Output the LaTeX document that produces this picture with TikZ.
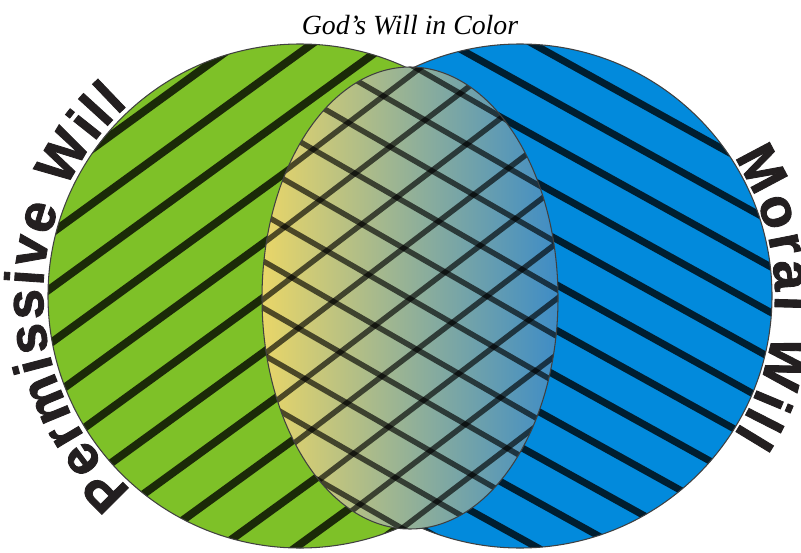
\documentclass[tikz,border=0pt]{standalone}
\usepackage{fontspec}
\setmainfont{Liberation Serif}
\setsansfont{Liberation Sans}
\newfontfamily\arcfamily{Liberation Sans}[BoldFeatures={FakeBold=1.6}]
\usepackage{xcolor}
\usetikzlibrary{calc,decorations.text,shadings}

\definecolor{permgreen}{RGB}{126,193,40}
\definecolor{moralblue}{RGB}{2,138,220}
\definecolor{lensyellow}{RGB}{233,214,104}
\definecolor{lensmid}{RGB}{168,186,140}
\definecolor{lenssteel}{RGB}{62,140,198}
\definecolor{inkblack}{RGB}{35,31,32}

\newcommand\arcfont{\arcfamily\bfseries\fontsize{31}{34}\selectfont}

\begin{document}
\begin{tikzpicture}[
  x=0.02cm, y=0.02cm,
  rim/.style={draw=black!75, line width=0.6pt},
  greenstripe/.style={draw=black, draw opacity=0.78, line width=4.5pt},
  bluestripe/.style={draw=black, draw opacity=0.78, line width=4.0pt},
  hatch/.style={draw=black, draw opacity=0.65, line width=3.1pt},
  titletext/.style={font=\itshape\fontsize{15.8}{18}\selectfont, inner sep=0pt},
  arclabel/.style={decorate, decoration={text along path, text color=inkblack,
                   text align=fit to path}}
]

\path[use as bounding box] (0,0) rectangle (801,552);

% ==================== Centres ====================
\coordinate (green) at (300,256);
\coordinate (blue)  at (520,256);
\coordinate (lens)  at (410,254);

% ==================== Permissive circle ====================
\fill[permgreen] (green) circle[radius=252];
\begin{scope}
  \clip (green) circle[radius=252];
  \begin{scope}[shift={(green)}, rotate=36]
    \foreach \k in {-7,...,6}
      \draw[greenstripe] (-270, 20.1+\k*44.2) -- (270, 20.1+\k*44.2);
  \end{scope}
\end{scope}
\draw[rim] (green) circle[radius=252];

% ==================== Moral circle ====================
\fill[moralblue] (blue) circle[radius=252];
\begin{scope}
  \clip (blue) circle[radius=252];
  \begin{scope}[shift={(blue)}, rotate=-29]
    \foreach \k in {-7,...,6}
      \draw[bluestripe] (-270, 27.5+\k*39.85) -- (270, 27.5+\k*39.85);
  \end{scope}
\end{scope}
\draw[rim] (blue) circle[radius=252];

% ==================== Overlap ====================
\path[shading=axis, left color=lensyellow, middle color=lensmid,
      right color=lenssteel] (lens) ellipse[x radius=148, y radius=231];
\begin{scope}
  \clip (lens) ellipse[x radius=148, y radius=231];
  \begin{scope}[shift={(lens)}, rotate=37.3]
    \foreach \k in {-7,...,7}
      \draw[hatch] (-300, -0.8+\k*44.4) -- (300, -0.8+\k*44.4);
  \end{scope}
  \begin{scope}[shift={(lens)}, rotate=-29.9]
    \foreach \k in {-8,...,8}
      \draw[hatch] (-300, -0.6+\k*40.6) -- (300, -0.6+\k*40.6);
  \end{scope}
\end{scope}
\draw[rim] (lens) ellipse[x radius=148, y radius=231];

% ==================== Labels ====================
\node[titletext, anchor=base] (title) at (410,517) {God’s Will in Color};

\path[arclabel, decoration={text={|\arcfont|Permissive Will}}]
  (green) ++(229:257) arc[start angle=229, end angle=132, radius=257];
\path[arclabel, decoration={text={|\arcfont|Moral Will}}]
  (blue) ++(33:255) arc[start angle=33, end angle=-33, radius=255];

\end{tikzpicture}
\end{document}
